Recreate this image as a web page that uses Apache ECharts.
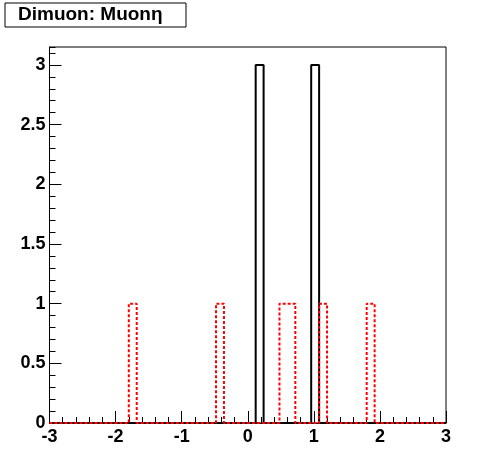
<!DOCTYPE html>
<html>
<head>
<meta charset="utf-8">
<script src="https://cdn.jsdelivr.net/npm/echarts@6/dist/echarts.min.js"></script>
<style>
html,body{margin:0;padding:0;background:#fff;}
#c{width:496px;height:472px;}
</style>
</head>
<body>
<div id="c"></div>
<script>
// Histogram definition: 50 bins from -3 to 3
const xMin = -3;
const xMax = 3;
const nBins = 50;
const xTicks = [-3, -2, -1, 0, 1, 2, 3];
const yTicks = [0, 0.5, 1, 1.5, 2, 2.5, 3];
const yMax = 3.15;
const titleText = 'Dimuon: Muon\u03b7';

// bin contents (black solid histogram)
const blackCounts = [
  0,0,0,0,0,0,0,0,0,0,
  0,0,0,0,0,0,0,0,0,0,
  0,0,0,0,0,0,3,0,0,0,
  0,0,0,3,0,0,0,0,0,0,
  0,0,0,0,0,0,0,0,0,0
];
// bin contents (red dashed histogram)
const redCounts = [
  0,0,0,0,0,0,0,0,0,0,
  1,0,0,0,0,0,0,0,0,0,
  0,1,0,0,0,0,0,0,0,1,
  1,0,0,0,1,0,0,0,0,0,
  1,0,0,0,0,0,0,0,0,0
];

function outline(counts) {
  const w = (xMax - xMin) / nBins;
  const pts = [];
  for (let i = 0; i < counts.length; i++) {
    const lo = xMin + i * w, hi = xMin + (i + 1) * w;
    pts.push([lo, counts[i]]);
    pts.push([hi, counts[i]]);
  }
  return pts;
}

const FONT = '"Liberation Sans", Arial, Helvetica, sans-serif';
const chart = echarts.init(document.getElementById('c'), null, {renderer: 'canvas'});
chart.setOption({
  animation: false,
  backgroundColor: '#fff',
  graphic: [{
    type: 'rect', left: 4.5, top: 2.5, z: 10,
    shape: {x: 0, y: 0, width: 181, height: 24},
    style: {fill: '#fff', stroke: '#000', lineWidth: 1}
  }, {
    type: 'text', z: 11, left: 18, top: 5,
    style: {text: titleText, fill: '#000', font: 'bold 19px ' + FONT}
  }],
  grid: {left: 49.5, right: 50, top: 47, bottom: 49, show: true, borderColor: '#000', borderWidth: 1, backgroundColor: 'transparent'},
  xAxis: {
    type: 'value', min: xMin, max: xMax, interval: 1,
    axisLine: {show: true, onZero: false, lineStyle: {color: '#000', width: 1}},
    axisTick: {show: true, inside: true, length: 12, lineStyle: {color: '#000', width: 1}},
    minorTick: {show: true, splitNumber: 5, length: 6, lineStyle: {color: '#000', width: 1}},
    splitLine: {show: false},
    axisLabel: {
      color: '#000', fontFamily: FONT, fontWeight: 'bold', fontSize: 18, margin: 5,
      formatter: v => xTicks.indexOf(v) >= 0 ? String(v) : ''
    }
  },
  yAxis: [{
    type: 'value', min: 0, max: yMax, interval: 0.5,
    axisLine: {show: true, onZero: false, lineStyle: {color: '#000', width: 1}},
    axisTick: {show: true, inside: true, length: 12, lineStyle: {color: '#000', width: 1}},
    splitLine: {show: false},
    axisLabel: {
      color: '#000', fontFamily: FONT, fontWeight: 'bold', fontSize: 18, margin: 4,
      showMaxLabel: false,
      formatter: v => yTicks.indexOf(v) >= 0 ? String(v) : ''
    }
  }, {
    type: 'value', min: 0, max: yMax, interval: 0.1, position: 'left',
    axisLine: {show: false, onZero: false},
    axisTick: {show: true, inside: true, length: 6, lineStyle: {color: '#000', width: 1}},
    splitLine: {show: false},
    axisLabel: {show: false}
  }],
  series: [{
    type: 'line', data: outline(blackCounts), yAxisIndex: 0,
    symbol: 'none', lineStyle: {color: '#000', width: 2}, z: 3
  }, {
    type: 'line', data: outline(redCounts), yAxisIndex: 0,
    symbol: 'none', lineStyle: {color: '#ff0000', width: 2, type: [3, 2]}, z: 4
  }]
});
</script>
</body>
</html>
